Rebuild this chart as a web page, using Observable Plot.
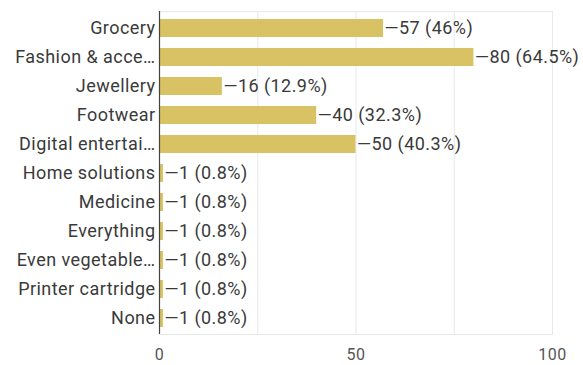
<!DOCTYPE html>
<html>
<head>
<meta charset="utf-8">
<script src="https://cdn.jsdelivr.net/npm/d3@7"></script>
<script src="https://cdn.jsdelivr.net/npm/@observablehq/plot@0.6"></script>
<style>
  html, body { margin: 0; padding: 0; background: #fff; }
  #chart svg { display: block; }
</style>
</head>
<body>
<div id="chart"></div>
<script>
const categories = ["Grocery", "Fashion & acce…", "Jewellery", "Footwear", "Digital entertai…", "Home solutions", "Medicine", "Everything", "Even vegetable…", "Printer cartridge", "None"];
const counts = [57, 80, 16, 40, 50, 1, 1, 1, 1, 1, 1];
const percents = ["46%", "64.5%", "12.9%", "32.3%", "40.3%", "0.8%", "0.8%", "0.8%", "0.8%", "0.8%", "0.8%"];
const xTicks = [0, 50, 100];
const gridTicks = [25, 50, 75];

const data = categories.map((c, i) => ({category: c, count: counts[i], label: `—${counts[i]} (${percents[i]})`}));

const chart = Plot.plot({
  width: 583,
  height: 365,
  marginLeft: 159,
  marginRight: 31,
  marginTop: 11,
  marginBottom: 31,
  style: {fontFamily: "Roboto, sans-serif", fontSize: "18px", color: "#3a3a3a", background: "#fff", letterSpacing: "0.45px"},
  x: {domain: [0, 100], ticks: xTicks, tickSize: 0, tickPadding: 14, label: null},
  y: {domain: categories, paddingInner: 0.39, paddingOuter: 0.19, tickSize: 0, tickPadding: 4, label: null},
  marks: [
    Plot.frame({stroke: "#e8e8e8"}),
    Plot.ruleX(gridTicks, {stroke: "#e8e8e8"}),
    Plot.barX(data, {y: "category", x: "count", fill: "#d8c263"}),
    Plot.ruleX([0], {stroke: "#444", strokeWidth: 1.2}),
    Plot.text(data, {y: "category", x: "count", text: "label", textAnchor: "start", dx: 1, fill: "#3a3a3a", fontSize: 18})
  ]
});
chart.querySelectorAll("[aria-label='x-axis tick label'] text").forEach(t => {
  t.style.fontSize = "16px";
  t.setAttribute("fill", "#555");
});
document.getElementById("chart").appendChild(chart);
</script>
</body>
</html>
